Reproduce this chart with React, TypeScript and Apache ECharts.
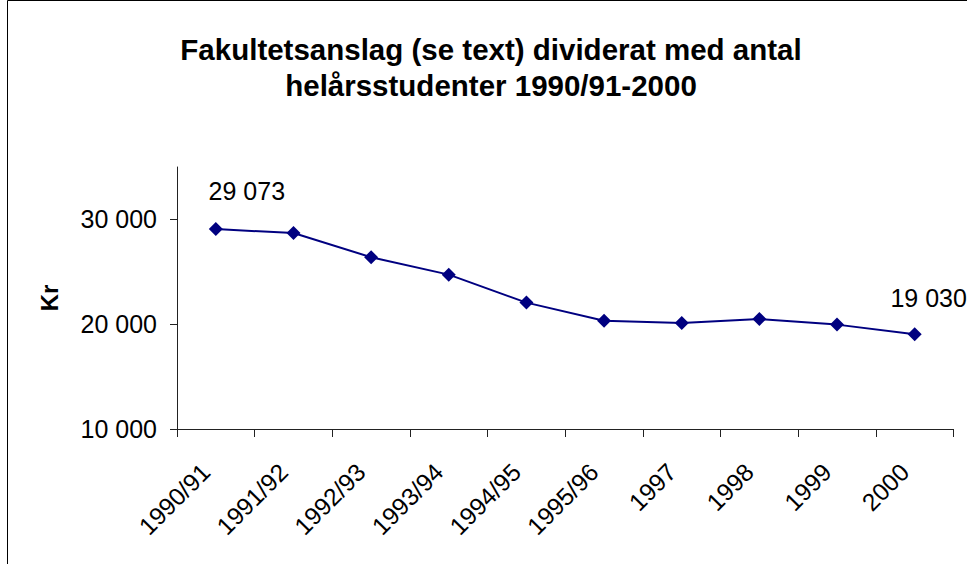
import React, { useEffect, useRef } from "react";
import * as echarts from "echarts";

const titleLines = ["Fakultetsanslag (se text) dividerat med antal", "helårsstudenter 1990/91-2000"];
const yAxisName = "Kr";
const categories = ["1990/91", "1991/92", "1992/93", "1993/94", "1994/95", "1995/96", "1997", "1998", "1999", "2000"];
const values = [29073, 28700, 26390, 24730, 22060, 20330, 20120, 20500, 19960, 19030];
const yTicks = [10000, 20000, 30000];
const yMin = 10000;
const yMax = 35000;
const labeledIndices = [0, 9];

const FONT = 'Arial, "Liberation Sans", Helvetica, sans-serif';
const NAVY = "#000080";

function fmt(v: number): string {
  return String(Math.round(v)).replace(/\B(?=(\d{3})+(?!\d))/g, " ");
}

export default function App() {
  const ref = useRef<HTMLDivElement>(null);
  useEffect(() => {
    if (!ref.current) return;
    const chart = echarts.init(ref.current, null, { renderer: "svg" });
    const labelOffsets: Record<number, [number, number]> = { 0: [31, -38], 9: [14, -36] };
    const data = values.map((v, i) =>
      labeledIndices.includes(i)
        ? {
            value: v,
            label: {
              show: true,
              position: "inside",
              offset: labelOffsets[i] || [0, -36],
              formatter: (p: any) => fmt(p.value),
              color: "#000",
              fontSize: 25,
              fontFamily: FONT,
            },
          }
        : v
    );
    chart.setOption({
      animation: false,
      backgroundColor: "#fff",
      graphic: [
        {
          type: "rect",
          shape: { x: 7.5, y: 0.5, width: 1200, height: 1200 },
          style: { fill: "none", stroke: "#000", lineWidth: 1 },
          silent: true,
        },
        {
          type: "text",
          x: 491,
          y: 67,
          style: {
            text: titleLines.join("\n"),
            align: "center",
            verticalAlign: "middle",
            fontSize: 29.5,
            fontWeight: "bold",
            fontFamily: FONT,
            lineHeight: 36,
            fill: "#000",
          },
        },
      ],
      grid: { left: 177, right: 13.5, top: 167, bottom: 135, containLabel: false },
      xAxis: {
        type: "category",
        data: categories,
        boundaryGap: true,
        axisLine: { show: true, lineStyle: { color: "#222", width: 1 } },
        axisTick: { show: true, interval: 0, length: 8, lineStyle: { color: "#222" } },
        axisLabel: {
          interval: 0,
          rotate: 45,
          margin: 29,
          padding: [0, 14, 0, 0],
          fontSize: 24.5,
          fontFamily: FONT,
          color: "#000",
        },
        splitLine: { show: false },
      },
      yAxis: {
        type: "value",
        min: yMin,
        max: yMax,
        interval: 10000,
        name: yAxisName,
        nameLocation: "middle",
        nameRotate: 90,
        nameGap: 116,
        nameTextStyle: { fontSize: 24, fontWeight: "bold", fontFamily: FONT, color: "#000" },
        axisLine: { show: true, lineStyle: { color: "#222", width: 1 } },
        axisTick: { show: true, length: 7, customValues: yTicks, lineStyle: { color: "#222" } },
        axisLabel: {
          customValues: yTicks,
          margin: 20,
          fontSize: 25,
          fontFamily: FONT,
          color: "#000",
          formatter: (v: number) => fmt(v),
        },
        splitLine: { show: false },
      },
      series: [
        {
          type: "line",
          data,
          symbol: "diamond",
          symbolSize: 14,
          lineStyle: { color: NAVY, width: 2 },
          itemStyle: { color: NAVY },
          label: { show: false },
        },
      ],
    });
    return () => chart.dispose();
  }, []);
  return <div ref={ref} style={{ position: "absolute", left: 0, top: 0, width: 967, height: 564 }} />;
}
